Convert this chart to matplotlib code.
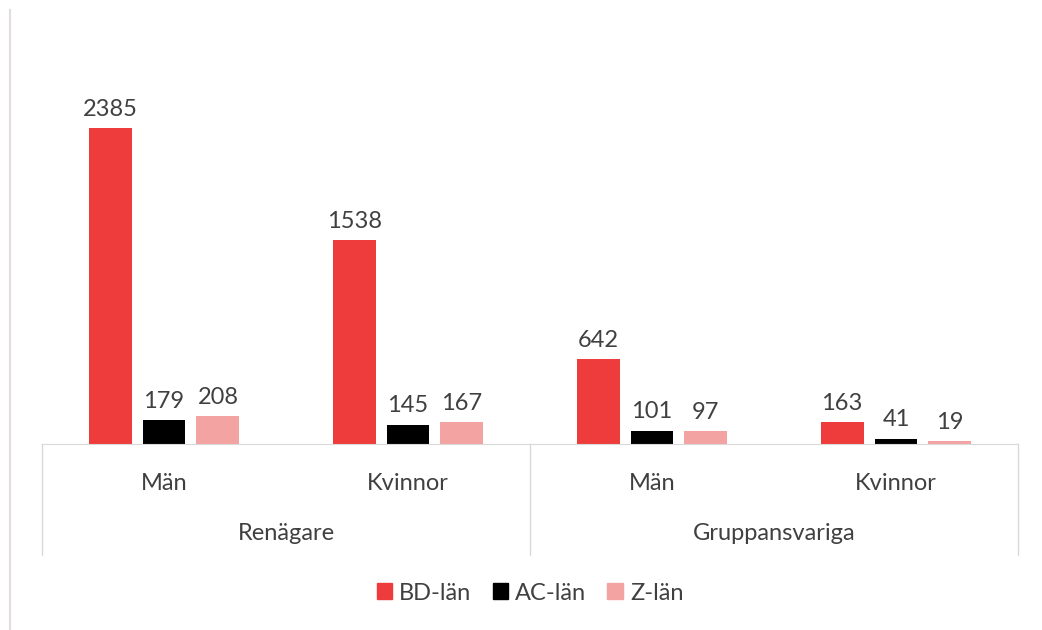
import matplotlib
matplotlib.use("Agg")
import matplotlib.pyplot as plt
import matplotlib.transforms as mtransforms
from matplotlib.patches import Patch
import numpy as np

plt.rcParams['font.family'] = ['Lato', 'DejaVu Sans']

# data
sub_labels = ["Män", "Kvinnor", "Män", "Kvinnor"]
group_labels = ["Renägare", "Gruppansvariga"]
series_names = ["BD-län", "AC-län", "Z-län"]
bd = [2385, 1538, 642, 163]
ac = [179, 145, 101, 41]
z = [208, 167, 97, 19]
colors = ["#EE3B3B", "#000000", "#F4A3A3"]

text_col = "#404040"
line_col = "#D9D9D9"
fs = 17

fig = plt.figure(figsize=(10.42, 6.3), dpi=100)
ax = fig.add_axes([42 / 1042, 1 - 444 / 630, 976 / 1042, 424 / 630])

x = np.arange(len(sub_labels))
step = 0.221
width = 0.176
for i, (vals, name) in enumerate(zip([bd, ac, z], series_names)):
    bars = ax.bar(x + (i - 1) * step, vals, width, color=colors[i], label=name)
    ax.bar_label(bars, padding=6, fontsize=fs, color=text_col)

ax.set_xlim(-0.5, 3.5)
ax.set_ylim(0, 3200)
ax.set_xticks([])
ax.set_yticks([])
for s in ["top", "right", "left"]:
    ax.spines[s].set_visible(False)
ax.spines["bottom"].set_color(line_col)

# multi-level category axis
trans = mtransforms.blended_transform_factory(ax.transData, ax.transAxes)
for xv in [-0.5, 1.5, 3.5]:
    ax.plot([xv, xv], [0, -0.262], transform=trans, color=line_col, lw=1, clip_on=False)
for xi, lab in zip(x, sub_labels):
    ax.text(xi, -0.092, lab, transform=trans, ha="center", va="center",
            fontsize=fs, color=text_col)
for gi, lab in enumerate(group_labels):
    ax.text(0.5 + 2 * gi, -0.21, lab, transform=trans, ha="center", va="center",
            fontsize=fs, color=text_col)

# faint chart border on the left
fig.add_artist(plt.Line2D([10 / 1042, 10 / 1042], [0, 1 - 10 / 630],
                          transform=fig.transFigure, color="#E3DEDC", lw=1.5))

handles = [Patch(color=c) for c in colors]
fig.legend(handles, series_names, loc="center", bbox_to_anchor=(530 / 1042, 1 - 593 / 630),
           ncol=3, frameon=False, fontsize=fs, handlelength=0.65, handleheight=0.65,
           handletextpad=0.3, columnspacing=0.9, labelcolor=text_col)

fig.savefig("out.png", dpi=100)
